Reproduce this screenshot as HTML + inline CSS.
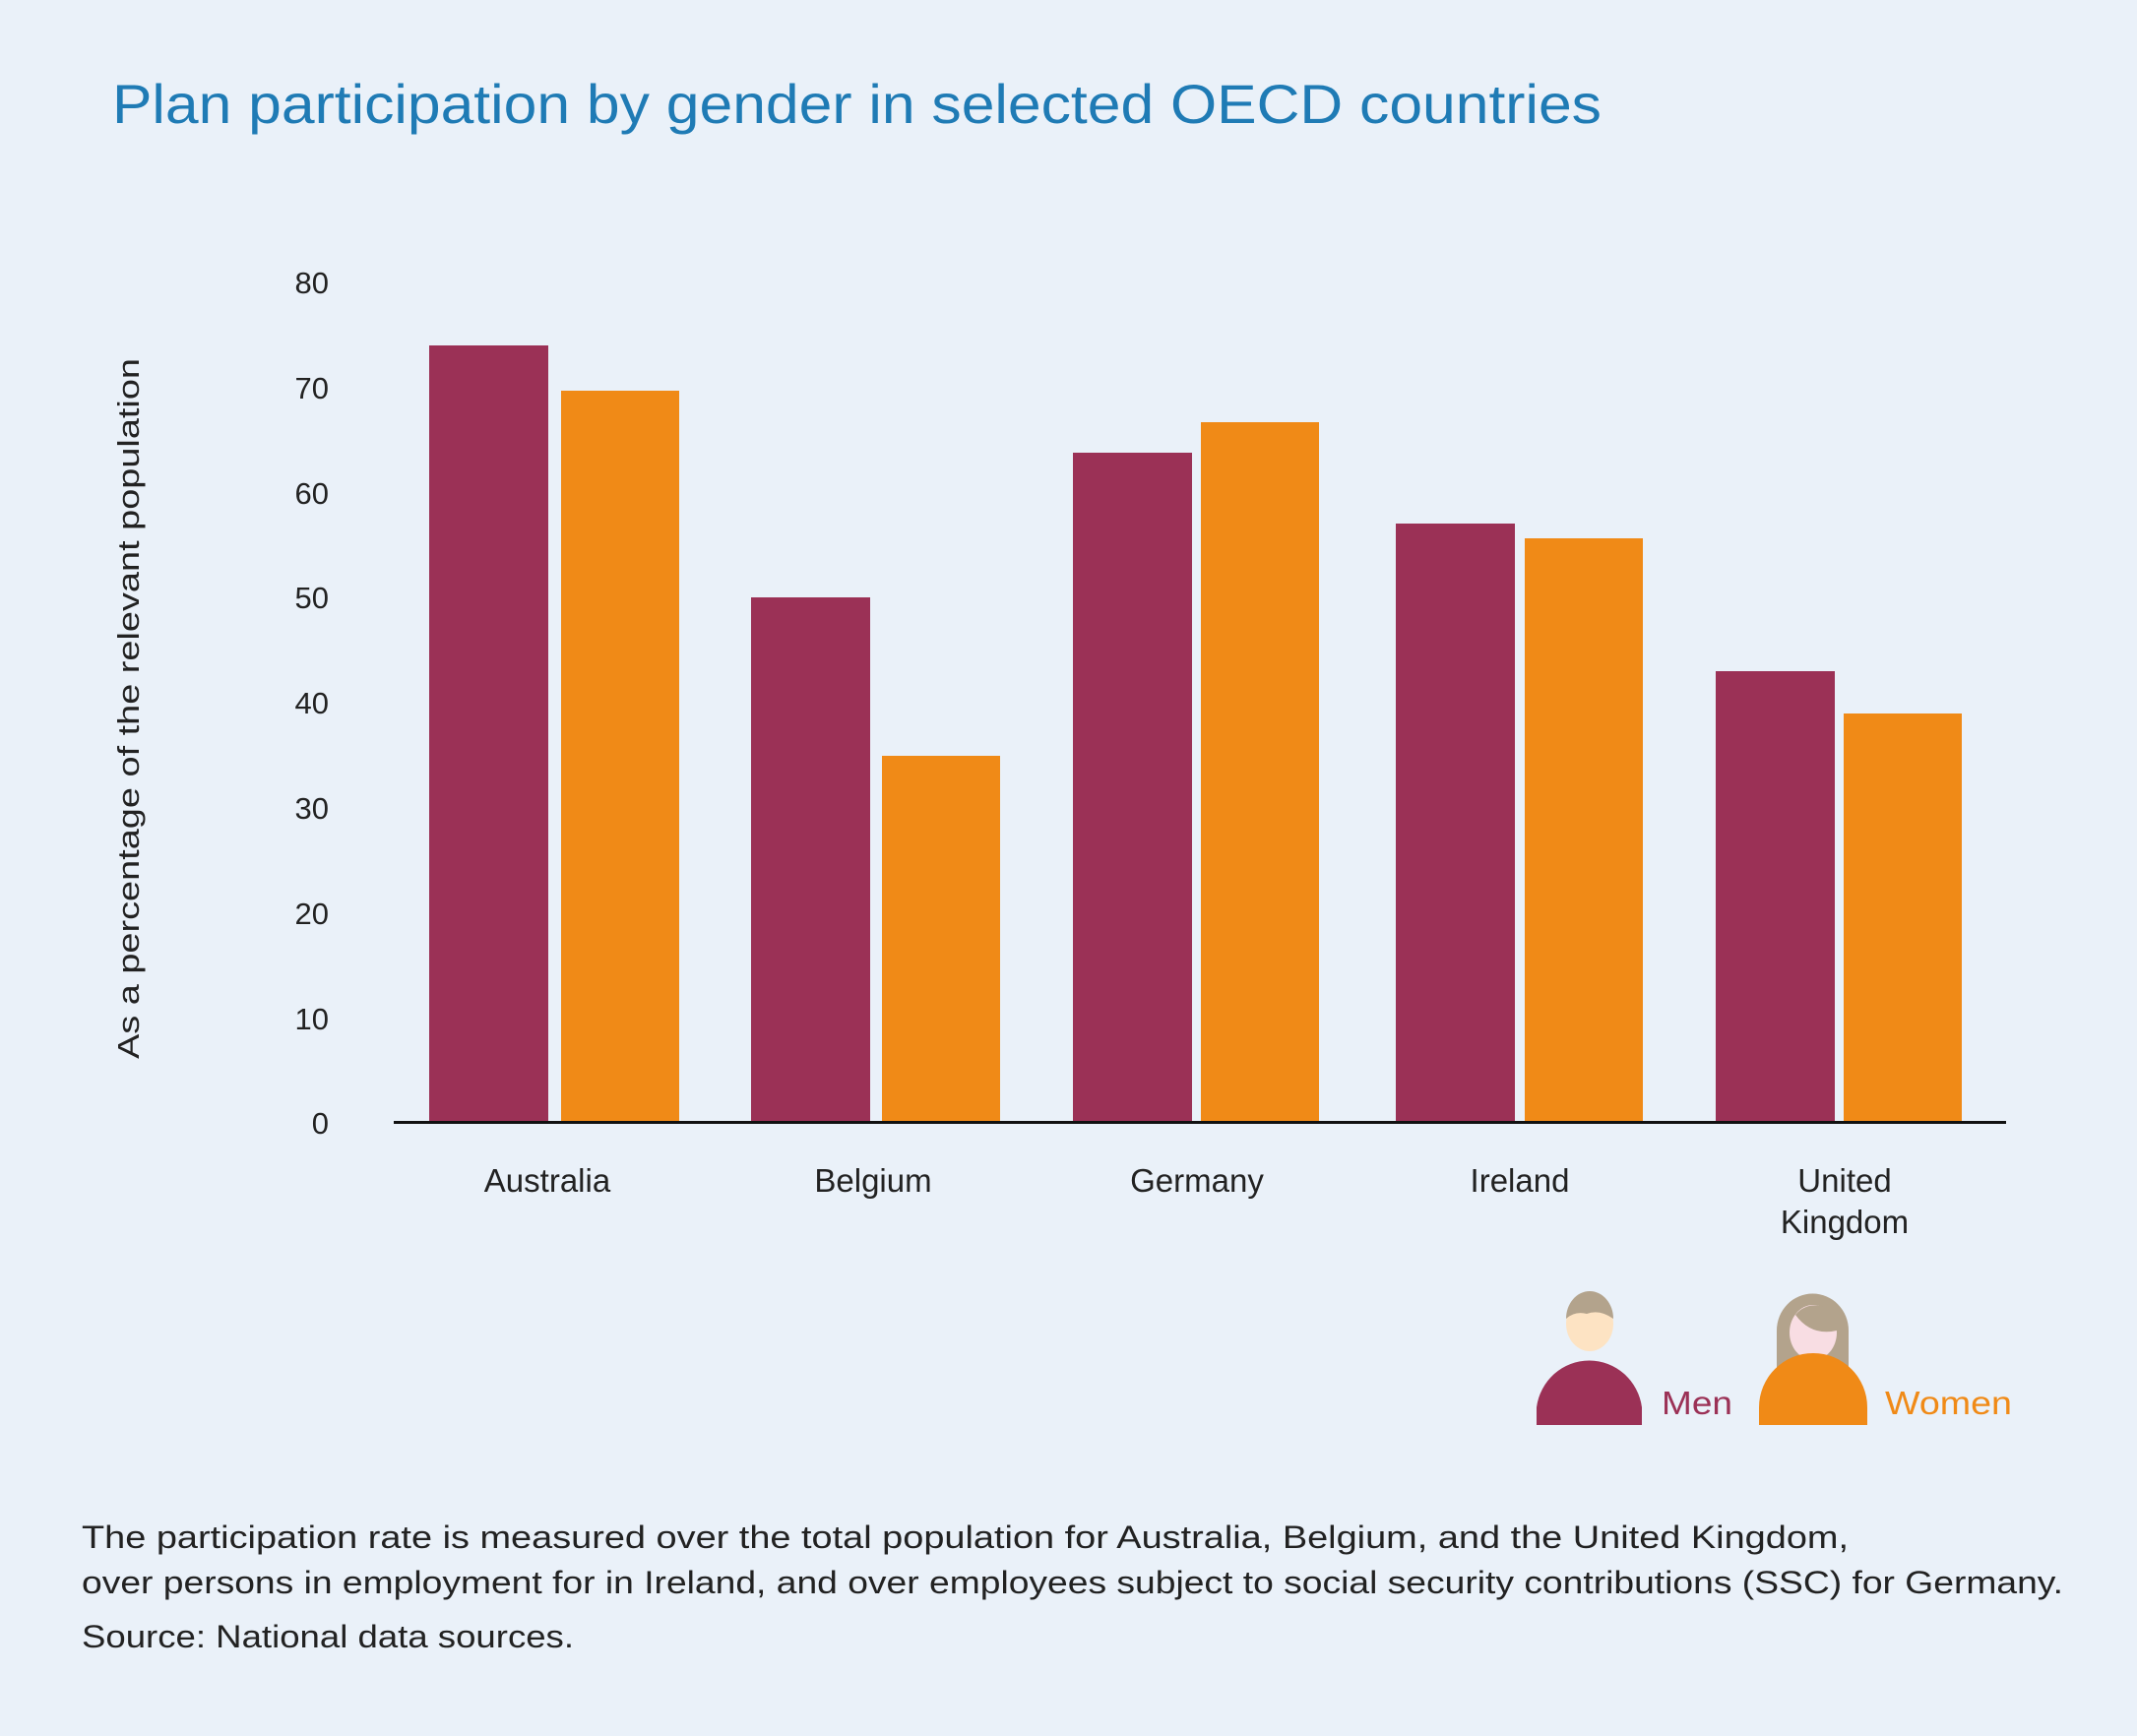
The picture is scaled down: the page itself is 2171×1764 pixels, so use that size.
<!DOCTYPE html>
<html><head><meta charset="utf-8"><style>html,body{margin:0;padding:0;background:#eaf1f9}svg{display:block}</style></head>
<body>
<svg width="2171" height="1764" viewBox="0 0 2171 1764" xmlns="http://www.w3.org/2000/svg" font-family="Liberation Sans, sans-serif">
<rect width="2171" height="1764" fill="#eaf1f9"/>
<text x="114" y="125" font-size="56" fill="#1f7bb5" textLength="1513" lengthAdjust="spacingAndGlyphs">Plan participation by gender in selected OECD countries</text>
<g font-size="31" fill="#222" text-anchor="end">
<text x="334" y="1152">0</text><text x="334" y="1046">10</text><text x="334" y="939">20</text><text x="334" y="832">30</text><text x="334" y="725">40</text><text x="334" y="618">50</text><text x="334" y="512">60</text><text x="334" y="405">70</text><text x="334" y="298">80</text>
</g>
<text transform="translate(141,720) rotate(-90)" font-size="31" fill="#222" text-anchor="middle" textLength="712" lengthAdjust="spacingAndGlyphs">As a percentage of the relevant population</text>
<g fill="#9b3156">
<rect x="436" y="351" width="121" height="790"/>
<rect x="763" y="607" width="121" height="534"/>
<rect x="1090" y="460" width="121" height="681"/>
<rect x="1418" y="532" width="121" height="609"/>
<rect x="1743" y="682" width="121" height="459"/>
</g>
<g fill="#f08a17">
<rect x="570" y="397" width="120" height="744"/>
<rect x="896" y="768" width="120" height="373"/>
<rect x="1220" y="429" width="120" height="712"/>
<rect x="1549" y="547" width="120" height="594"/>
<rect x="1873" y="725" width="120" height="416"/>
</g>
<rect x="400" y="1139" width="1638" height="3" fill="#111"/>
<g font-size="33" fill="#222" text-anchor="middle">
<text x="556" y="1211">Australia</text>
<text x="887" y="1211">Belgium</text>
<text x="1216" y="1211">Germany</text>
<text x="1544" y="1211">Ireland</text>
<text x="1874" y="1211">United</text>
<text x="1874" y="1253">Kingdom</text>
</g>
<!-- legend men -->
<path d="M1561 1448 L1561 1430 A54 55 0 0 1 1668 1430 L1668 1448 Z" fill="#9b3156"/>
<ellipse cx="1615" cy="1345" rx="24" ry="28" fill="#fde3c3"/>
<path d="M1591 1340 A24 28 0 0 1 1639 1340 Q1625 1330 1612 1335 Q1600 1332 1591 1340Z" fill="#b3a38c"/>
<text x="1688" y="1437" font-size="33" fill="#9b3156" textLength="72" lengthAdjust="spacingAndGlyphs">Men</text>
<!-- legend women -->
<path d="M1805 1352 A36 37 0 0 1 1878 1352 L1878 1405 L1805 1405 Z" fill="#b3a38c"/>
<ellipse cx="1842" cy="1354" rx="24" ry="28" fill="#f8dde3"/>
<path d="M1824 1336 Q1840 1358 1866 1352 L1866 1340 A24 22 0 0 0 1824 1336Z" fill="#b3a38c"/>
<path d="M1787 1448 L1787 1430 A55 55 0 0 1 1897 1430 L1897 1448 Z" fill="#f08a17"/>
<text x="1915" y="1437" font-size="33" fill="#f08a17" textLength="129" lengthAdjust="spacingAndGlyphs">Women</text>
<g font-size="32" fill="#222">
<text x="83" y="1573" textLength="1795" lengthAdjust="spacingAndGlyphs">The participation rate is measured over the total population for Australia, Belgium, and the United Kingdom,</text>
<text x="83" y="1619" textLength="2013" lengthAdjust="spacingAndGlyphs">over persons in employment for in Ireland, and over employees subject to social security contributions (SSC) for Germany.</text>
<text x="83" y="1674" textLength="500" lengthAdjust="spacingAndGlyphs">Source: National data sources.</text>
</g>
</svg>
</body></html>
